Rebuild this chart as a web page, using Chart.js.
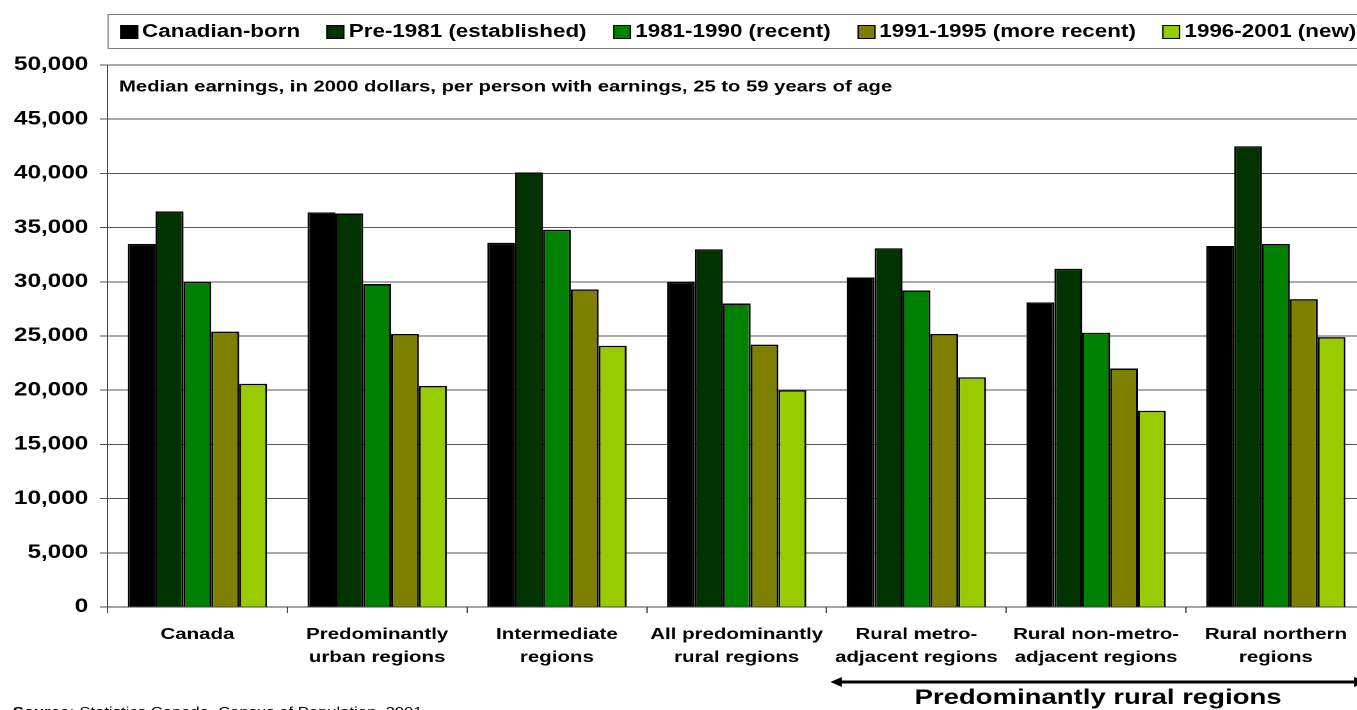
<!DOCTYPE html>
<html>
<head>
<meta charset="utf-8">
<script src="https://cdn.jsdelivr.net/npm/chart.js@4.4.1/dist/chart.umd.min.js"></script>
<style>
  html, body { margin: 0; padding: 0; background: #fff; overflow: hidden; }
  /* the original picture is stretched sideways, so the whole chart is too */
  #wrap { position: absolute; left: 0; top: 0; width: 1067px; height: 710px;
          transform: scaleX(1.28); transform-origin: 0 0; }
  #chart { position: absolute; left: 0; top: 0; }
  #legend { position: absolute; left: 84px; top: 14px; width: 1000px; height: 35px;
            box-sizing: border-box; border: 1px solid #808080; display: flex;
            align-items: center; padding-left: 9px; gap: 21px;
            font: bold 17.5px "Liberation Sans", Arial, sans-serif; color: #000; }
  #legend .item { display: flex; align-items: center; white-space: nowrap; }
  #legend .box { width: 12px; height: 12px; border: 1px solid #000; margin-right: 3px; }
</style>
</head>
<body>
<div id="wrap">
  <div id="legend"></div>
  <canvas id="chart" width="1067" height="710"></canvas>
</div>
<script>
const categories = [
    'Canada',
    ['Predominantly', 'urban regions'],
    ['Intermediate', 'regions'],
    ['All predominantly', 'rural regions'],
    ['Rural metro-', 'adjacent regions'],
    ['Rural non-metro-', 'adjacent regions'],
    ['Rural northern', 'regions']
];
const seriesNames = ['Canadian-born', 'Pre-1981 (established)', '1981-1990 (recent)', '1991-1995 (more recent)', '1996-2001 (new)'];
const canadianBorn = [33500, 36400, 33600, 30000, 30400, 28100, 33300];
const pre1981 = [36500, 36300, 40100, 33000, 33100, 31200, 42500];
const recent8190 = [30000, 29800, 34800, 28000, 29200, 25300, 33500];
const moreRecent9195 = [25400, 25200, 29300, 24200, 25200, 22000, 28400];
const new9601 = [20600, 20400, 24100, 20000, 21200, 18100, 24900];
const yTicks = [0, 5000, 10000, 15000, 20000, 25000, 30000, 35000, 40000, 45000, 50000];

const colors = ['#000000', '#003300', '#008000', '#808000', '#99cc00'];
const allSeries = [canadianBorn, pre1981, recent8190, moreRecent9195, new9601];

const note = 'Median earnings, in 2000 dollars, per person with earnings, 25 to 59 years of age';
const rangeTitle = 'Predominantly rural regions';
const sourceBold = 'Source:';
const sourceText = ' Statistics Canada, Census of Population, 2001.';

Chart.defaults.font.family = '"Liberation Sans", Arial, sans-serif';
Chart.defaults.color = '#000';

// text inside the plot, the arrow under the rural groups and the source line
const extras = {
    id: 'extras',
    afterDraw(chart) {
        const c = chart.ctx;
        const area = chart.chartArea;
        const x = chart.scales.x;
        c.save();
        c.fillStyle = '#000';
        c.font = 'bold 15.8px "Liberation Sans", Arial, sans-serif';
        c.textBaseline = 'middle';
        c.textAlign = 'left';
        c.fillText(note, area.left + 9, area.top + 22);

        const half = (x.getPixelForValue(1) - x.getPixelForValue(0)) / 2;
        const left = x.getPixelForValue(4) - half + 3;
        const right = area.right;
        const ay = area.bottom + 75;
        c.strokeStyle = '#000';
        c.lineWidth = 3;
        c.beginPath();
        c.moveTo(left + 6, ay);
        c.lineTo(right - 6, ay);
        c.stroke();
        c.beginPath();
        c.moveTo(left, ay);
        c.lineTo(left + 9, ay - 5);
        c.lineTo(left + 9, ay + 5);
        c.closePath();
        c.moveTo(right, ay);
        c.lineTo(right - 9, ay - 5);
        c.lineTo(right - 9, ay + 5);
        c.closePath();
        c.fill();

        c.font = 'bold 21.5px "Liberation Sans", Arial, sans-serif';
        c.textAlign = 'center';
        c.fillText(rangeTitle, (left + right) / 2, ay + 16);

        c.textAlign = 'left';
        c.textBaseline = 'top';
        c.font = 'bold 13px "Liberation Sans", Arial, sans-serif';
        c.fillText(sourceBold, 10, 706);
        const w = c.measureText(sourceBold).width;
        c.font = '13px "Liberation Sans", Arial, sans-serif';
        c.fillText(sourceText, 10 + w, 706);
        c.restore();
    }
};

const chart = new Chart(document.getElementById('chart'), {
    type: 'bar',
    data: {
        labels: categories,
        datasets: allSeries.map((vals, i) => ({
            label: seriesNames[i],
            data: vals,
            backgroundColor: colors[i],
            borderColor: '#000',
            borderWidth: 1.5,
            categoryPercentage: 0.775,
            barPercentage: 1.0
        }))
    },
    options: {
        responsive: false,
        animation: false,
        devicePixelRatio: 2,
        layout: { padding: { top: 65, left: 0, right: 0, bottom: 0 } },
        plugins: {
            legend: { display: false },
            tooltip: { enabled: false }
        },
        scales: {
            x: {
                grid: { drawOnChartArea: false, drawTicks: true, tickLength: 6, color: '#444', offset: true },
                border: { color: '#444', width: 1 },
                ticks: {
                    autoSkip: false, maxRotation: 0, padding: 10,
                    font: { size: 16, weight: 'bold', lineHeight: 1.44 }
                },
                afterFit(scale) { scale.height = 103; }
            },
            y: {
                min: 0,
                max: 50000,
                afterBuildTicks(scale) { scale.ticks = yTicks.map(v => ({ value: v })); },
                grid: { color: '#555', tickLength: 6 },
                border: { color: '#444', width: 1 },
                ticks: {
                    padding: 9,
                    font: { size: 19, weight: 'bold' },
                    callback: v => v.toLocaleString('en-US')
                },
                afterFit(scale) { scale.width = 84; }
            }
        }
    },
    plugins: [extras]
});

// legend as html, built from the datasets
const legendEl = document.getElementById('legend');
chart.data.datasets.forEach(ds => {
    const item = document.createElement('div');
    item.className = 'item';
    const box = document.createElement('span');
    box.className = 'box';
    box.style.background = ds.backgroundColor;
    item.appendChild(box);
    item.appendChild(document.createTextNode(ds.label));
    legendEl.appendChild(item);
});
</script>
</body>
</html>
